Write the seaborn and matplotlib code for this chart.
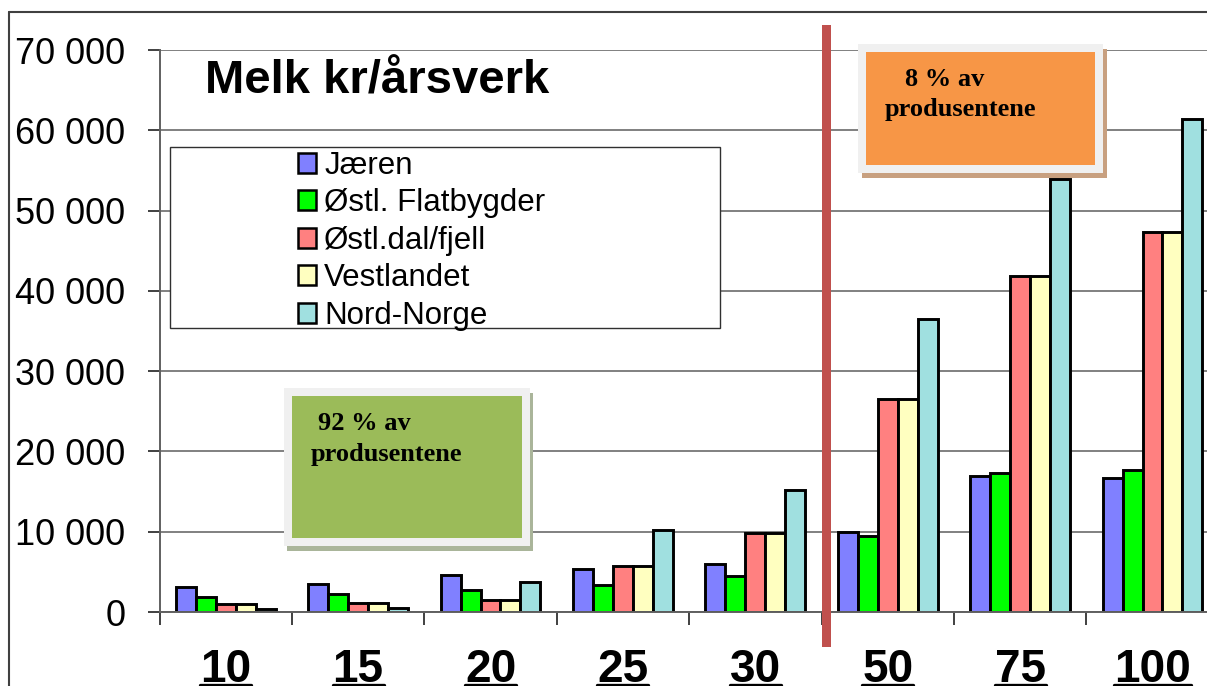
import seaborn as sns
from matplotlib import pyplot as plt
from matplotlib.patches import Rectangle, Patch
from matplotlib.lines import Line2D
from matplotlib.ticker import FuncFormatter
import pandas as pd

# Data
sizes = ["10", "15", "20", "25", "30", "50", "75", "100"]
regions = ["Jæren", "Østl. Flatbygder", "Østl.dal/fjell", "Vestlandet", "Nord-Norge"]
jaeren = [3100, 3500, 4550, 5300, 5950, 10000, 16950, 16700]
ostl_flat = [1900, 2300, 2800, 3350, 4500, 9500, 17300, 17650]
ostl_dal = [1000, 1150, 1450, 5700, 9900, 26550, 41800, 47350]
vestlandet = [1000, 1150, 1450, 5700, 9900, 26550, 41800, 47350]
nord_norge = [400, 550, 3700, 10200, 15250, 36450, 53950, 61400]
colors = ["#8080FF", "#00FF00", "#FF8080", "#FFFFC0", "#A0E0E0"]

values = [jaeren, ostl_flat, ostl_dal, vestlandet, nord_norge]
df = pd.DataFrame([
    {"size": s, "region": r, "value": v}
    for r, vals in zip(regions, values)
    for s, v in zip(sizes, vals)
])

sns.set_theme(style="white")
plt.rcParams['font.family'] = ['Liberation Sans', 'DejaVu Sans']
plt.rcParams['text.color'] = 'black'
plt.rcParams['xtick.color'] = 'black'
plt.rcParams['ytick.color'] = 'black'

W, H = 1207, 686
fig = plt.figure(figsize=(W / 100, H / 100), dpi=100)


def fx(x):
    return x / W


def fy(y):
    return 1 - y / H


ax = fig.add_axes([fx(159.5), fy(612), 1059.2 / W, 562 / H])

sns.barplot(data=df, x="size", y="value", hue="region", order=sizes,
            hue_order=regions, palette=colors, saturation=1, width=0.755,
            gap=0, edgecolor="black", linewidth=2.1, errorbar=None,
            legend=False, ax=ax)

ax.set_xlim(-0.5, 7.5)
ax.set_ylim(0, 70000)
ax.set_yticks(range(0, 70001, 10000))
ax.yaxis.set_major_formatter(FuncFormatter(lambda v, p: f"{int(v):,}".replace(",", " ")))
ax.set_xlabel("")
ax.set_ylabel("")
ax.yaxis.grid(True, color="#808080", lw=1.4)
ax.set_axisbelow(True)
for side in ["top", "right"]:
    ax.spines[side].set_visible(False)
for side in ["left", "bottom"]:
    ax.spines[side].set_color("#606060")
    ax.spines[side].set_linewidth(1.4)

ax.set_xticks([i - 0.5 for i in range(9)], minor=True)
ax.tick_params(axis="x", which="major", length=0, pad=26, labelsize=33)
ax.tick_params(axis="x", which="minor", length=9, width=1.4, color="#404040", direction="out", bottom=True)
ax.tick_params(axis="y", length=8.6, width=1.4, color="#404040", direction="out",
               left=True, pad=16, labelsize=26, labelcolor="black")
for lbl in ax.get_xticklabels():
    lbl.set_fontweight("bold")
    lbl.set_color("black")

# outer chart frame
fig.add_artist(Line2D([fx(9), 1], [fy(12), fy(12)], color="#404040", lw=1.5))
fig.add_artist(Line2D([fx(9), fx(9)], [fy(12), 0], color="#404040", lw=1.5))

# title
fig.text(fx(205), fy(94), "Melk kr/årsverk", fontsize=34, fontweight="bold",
         va="baseline", color="black")

# legend box and entries
fig.add_artist(Rectangle((fx(170), fy(328)), fx(550), (328 - 147) / H,
                         facecolor="white", edgecolor="#303030", lw=1.0, zorder=3))
handles = [Patch(facecolor=c, edgecolor="black", lw=1.8) for c in colors]
leg = fig.legend(handles, regions, loc="upper left", bbox_to_anchor=(fx(293), fy(146)),
                 frameon=False, fontsize=22.5, handlelength=0.6, handleheight=0.6,
                 handletextpad=0.25, labelspacing=0.24, borderaxespad=0, borderpad=0.15)
for t in leg.get_texts():
    t.set_color("black")


def text_box(x0, y0, x1, y1, fill, shadow, off, lines):
    fig.add_artist(Rectangle((fx(x0 + off[0]), fy(y1 + off[1])), (x1 - x0) / W, (y1 - y0) / H,
                             facecolor=shadow, edgecolor="none", zorder=4))
    fig.add_artist(Rectangle((fx(x0), fy(y1)), (x1 - x0) / W, (y1 - y0) / H,
                             facecolor="#F0F0F0", edgecolor="none", zorder=4))
    fig.add_artist(Rectangle((fx(x0 + 8), fy(y1 - 8)), (x1 - x0 - 16) / W, (y1 - y0 - 16) / H,
                             facecolor=fill, edgecolor="none", zorder=4))
    for tx, ty, t in lines:
        fig.text(fx(tx), fy(ty), t, fontsize=19, fontweight="bold", va="baseline",
                 color="black", family=["Liberation Serif", "DejaVu Serif"], zorder=5)


text_box(284, 388, 530, 546, "#9BBB59", "#AAB59A", (3, 5),
         [(318, 430, "92 % av"), (311, 461, "produsentene")])
text_box(858, 44, 1103, 173, "#F79646", "#C8A080", (4, 5),
         [(905, 86, "8 % av"), (885, 116, "produsentene")])

# red divider line
fig.add_artist(Rectangle((fx(822), fy(647)), 9 / W, (647 - 25) / H,
                         facecolor="#C0504D", edgecolor="none", zorder=6))

# underline the x tick labels
fig.canvas.draw()
for lbl in ax.get_xticklabels():
    bb = lbl.get_window_extent()
    fig.add_artist(Line2D([bb.x0 / W, bb.x1 / W], [fy(684.5), fy(684.5)], color="black", lw=2.4))

fig.savefig("out.png", dpi=100)
